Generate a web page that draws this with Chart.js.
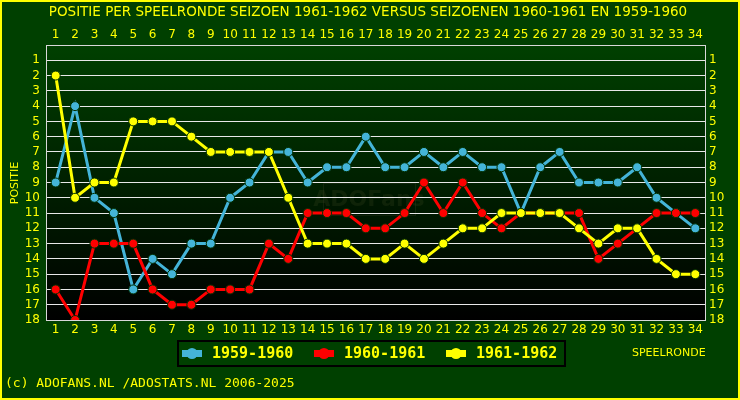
<!DOCTYPE html>
<html><head><meta charset="utf-8">
<script src="https://cdn.jsdelivr.net/npm/chart.js@4.4.1/dist/chart.umd.min.js"></script>
<style>html,body{margin:0;padding:0;background:#004000;}canvas{display:block;}</style>
</head><body>
<div style="width:740px;height:400px;"><canvas id="c" width="740" height="400"></canvas></div>
<script>
const rounds = Array.from({length:34},(_,i)=>String(i+1));
const yTicks = [1,2,3,4,5,6,7,8,9,10,11,12,13,14,15,16,17,18];
const s1959 = [9,4,10,11,16,14,15,13,13,10,9,7,7,9,8,8,6,8,8,7,8,7,8,8,11,8,7,9,9,9,8,10,11,12];
const s1960 = [16,18,13,13,13,16,17,17,16,16,16,13,14,11,11,11,12,12,11,9,11,9,11,12,11,11,11,11,14,13,12,11,11,11];
const s1961 = [2,10,9,9,5,5,5,6,7,7,7,7,10,13,13,13,14,14,13,14,13,12,12,11,11,11,11,12,13,12,12,14,15,15];
const seriesNames = ['1959-1960','1960-1961','1961-1962'];
const seriesColors = ['#44b4d8','#ff0000','#ffff00'];
const titleText = 'POSITIE PER SPEELRONDE SEIZOEN 1961-1962 VERSUS SEIZOENEN 1960-1961 EN 1959-1960';
const copyText = '(c) ADOFANS.NL /ADOSTATS.NL 2006-2025';

const Y = '#ffff00';
const tickFont = {family:'DejaVu Sans', size:12};

function ds(i, data, order){
  return {label:seriesNames[i], data, borderColor:seriesColors[i], backgroundColor:seriesColors[i],
    borderWidth:3, pointRadius:4.5, pointBorderColor:'#003000', pointBorderWidth:1,
    pointBackgroundColor:seriesColors[i], tension:0, order};
}

const deco = {
  id:'deco',
  beforeDraw(chart){
    const ctx = chart.ctx, a = chart.chartArea;
    ctx.save();
    ctx.fillStyle = '#004000';
    ctx.fillRect(0,0,chart.width,chart.height);
    const g = ctx.createLinearGradient(0,a.top,0,a.bottom);
    g.addColorStop(0,'#004000');
    g.addColorStop(1,'#000000');
    ctx.fillStyle = g;
    ctx.fillRect(a.left,a.top,a.right-a.left,a.bottom-a.top);
    // watermark
    ctx.fillStyle = 'rgba(0,0,0,0.12)';
    ctx.fillRect(323,183,92,32);
    ctx.strokeStyle = 'rgba(60,70,40,0.3)';
    ctx.lineWidth = 1;
    ctx.strokeRect(323.5,183.5,92,32);
    ctx.font = 'bold 22px "DejaVu Sans"';
    ctx.fillStyle = 'rgba(60,70,30,0.25)';
    ctx.textAlign='center'; ctx.textBaseline='middle';
    ctx.fillText('ADOFans',369,200);
    ctx.restore();
  },
  afterDraw(chart){
    const ctx = chart.ctx;
    ctx.save();
    // outer border
    ctx.strokeStyle = Y; ctx.lineWidth = 2;
    ctx.strokeRect(1,1,chart.width-2,chart.height-2);
    ctx.fillStyle = Y;
    ctx.textBaseline = 'middle';
    ctx.textAlign = 'center';
    ctx.font = '13.5px "DejaVu Sans"';
    ctx.fillText(titleText, 368, 12);
    // y title
    ctx.save();
    ctx.translate(15,183); ctx.rotate(-Math.PI/2);
    ctx.font = '11px "DejaVu Sans"';
    ctx.fillText('POSITIE',0,0);
    ctx.restore();
    ctx.font = '11px "DejaVu Sans"';
    ctx.textAlign='left';
    ctx.fillText('SPEELRONDE', 632, 353);
    ctx.font = '13px "DejaVu Sans Mono"';
    ctx.fillText(copyText, 5, 384);
    // legend
    ctx.strokeStyle = '#000'; ctx.lineWidth = 2;
    ctx.strokeRect(178,341,387,25);
    const items = [[192,212],[324,344],[456,476]];
    chart.data.datasets.forEach((d,i)=>{
      const k = seriesNames.indexOf(d.label);
      const [mx,tx] = items[k];
      ctx.fillStyle = d.borderColor;
      ctx.fillRect(mx-10,350,20,7);
      ctx.beginPath(); ctx.arc(mx,353.5,5.5,0,Math.PI*2); ctx.fill();
      ctx.fillStyle = Y;
      ctx.font = 'bold 15px "DejaVu Sans Mono"';
      ctx.textAlign='left';
      ctx.fillText(d.label, tx, 354);
    });
    ctx.restore();
  }
};

const xCommon = {
  type:'category', offset:true,
  grid:{display:false, drawTicks:false},
  border:{display:true, color:'#d8d8d8', width:1},
  ticks:{color:Y, font:tickFont, maxRotation:0, autoSkip:false}
};
const yCommon = {
  min:0, max:18, reverse:true,
  afterBuildTicks(s){ s.ticks = yTicks.map(v=>({value:v})); },
  grid:{color:'#e8e8e8', lineWidth:1, drawTicks:false},
  border:{display:true, color:'#d8d8d8', width:1},
  ticks:{color:Y, font:tickFont, stepSize:1, autoSkip:false}
};

new Chart(document.getElementById('c'), {
  type:'line',
  data:{labels:rounds, datasets:[ds(0,s1959,3), ds(1,s1960,2), ds(2,s1961,1)]},
  options:{
    responsive:false, animation:false, devicePixelRatio:1,
    layout:{padding:0},
    plugins:{legend:{display:false}, title:{display:false}, tooltip:{enabled:false}},
    scales:{
      x:{...xCommon, position:'bottom', ticks:{...xCommon.ticks, padding:3},
        afterFit(s){ s.height = 80; }},
      x2:{...xCommon, position:'top', labels:rounds, ticks:{...xCommon.ticks, padding:3},
        afterFit(s){ s.height = 45; }},
      y:{...yCommon, position:'left', ticks:{...yCommon.ticks, padding:6},
        afterFit(s){ s.width = 46; }},
      y2:{...yCommon, position:'right', ticks:{...yCommon.ticks, padding:4},
        grid:{display:false, drawTicks:false},
        afterFit(s){ s.width = 35; }}
    }
  },
  plugins:[deco]
});
</script>
</body></html>
